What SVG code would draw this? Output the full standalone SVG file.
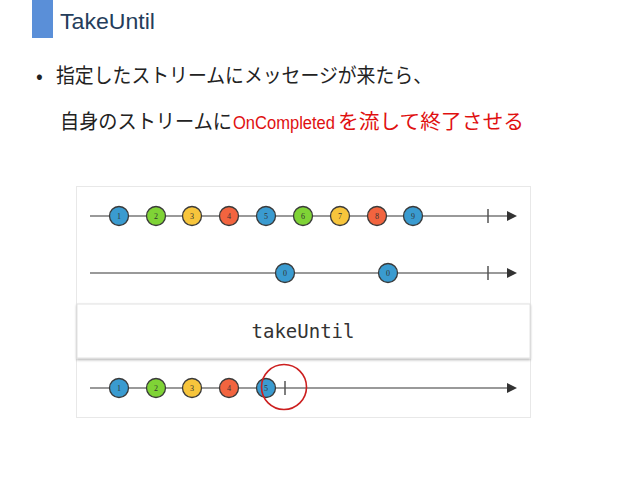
<svg xmlns="http://www.w3.org/2000/svg" width="638" height="479" viewBox="0 0 638 479">
<defs>
<style>
.jp{font-family:"Noto Sans CJK JP","Liberation Sans",sans-serif;font-size:20px;fill:#222}
.lat{font-family:"Liberation Sans",Arial,sans-serif;font-size:17.5px}
.red{fill:#e01010}
.ln{stroke:#777;stroke-width:1.6;fill:none}
.tk{stroke:#555;stroke-width:1.5}
.m{stroke:#3a3a3a;stroke-width:1.3}
.b{fill:#3a9bd0}.g{fill:#7fd336}.y{fill:#f7c53c}.r{fill:#f2643f}
.n{font-family:"Liberation Serif",serif;font-size:8px;fill:#333;text-anchor:middle}
</style>
<marker id="ah" viewBox="0 0 10 10" refX="0" refY="5" markerWidth="10" markerHeight="10" markerUnits="userSpaceOnUse" orient="auto"><path d="M0,0 L10,5 L0,10 z" fill="#333"/></marker>
<filter id="sh" x="-5%" y="-20%" width="110%" height="150%"><feDropShadow dx="0" dy="1.5" stdDeviation="1.2" flood-color="#000" flood-opacity="0.3"/></filter>
</defs>
<rect width="638" height="479" fill="#fff"/>
<g id="title">
<rect x="32" y="0" width="21" height="38" fill="#5a8fd8"/>
<text x="60" y="29" font-family="Liberation Sans,sans-serif" font-size="22" fill="#253d5b" textLength="95" lengthAdjust="spacingAndGlyphs">TakeUntil</text>
</g>
<g id="body">
<text x="36" y="83" class="jp">•</text>
<text x="56" y="83" class="jp" textLength="376" lengthAdjust="spacingAndGlyphs">指定したストリームにメッセージが来たら、</text>
<text x="60" y="129" class="jp" textLength="172" lengthAdjust="spacingAndGlyphs">自身のストリームに</text>
<text x="233" y="129" class="lat red" textLength="102" lengthAdjust="spacingAndGlyphs">OnCompleted</text>
<text x="338" y="129" class="jp red" textLength="186" lengthAdjust="spacingAndGlyphs">を流して終了させる</text>
</g>
<g id="panel">
<rect x="76.5" y="186.5" width="454" height="231" fill="#fff" stroke="#e8e8e8"/>
</g>
<g id="connectors">
<line class="ln" x1="90" y1="216" x2="507" y2="216" marker-end="url(#ah)"/>
<line class="tk" x1="488" y1="209" x2="488" y2="223"/>
<line class="ln" x1="90" y1="273" x2="507" y2="273" marker-end="url(#ah)"/>
<line class="tk" x1="488" y1="266" x2="488" y2="280"/>
<line class="ln" x1="90" y1="388" x2="507" y2="388" marker-end="url(#ah)"/>
<line class="tk" x1="285" y1="381" x2="285" y2="395"/>
</g>
<g id="row1">
<circle class="m b" cx="119" cy="216" r="9.5"/><text class="n" x="119" y="219">1</text>
<circle class="m g" cx="156" cy="216" r="9.5"/><text class="n" x="156" y="219">2</text>
<circle class="m y" cx="192" cy="216" r="9.5"/><text class="n" x="192" y="219">3</text>
<circle class="m r" cx="229" cy="216" r="9.5"/><text class="n" x="229" y="219">4</text>
<circle class="m b" cx="266" cy="216" r="9.5"/><text class="n" x="266" y="219">5</text>
<circle class="m g" cx="303" cy="216" r="9.5"/><text class="n" x="303" y="219">6</text>
<circle class="m y" cx="340" cy="216" r="9.5"/><text class="n" x="340" y="219">7</text>
<circle class="m r" cx="377" cy="216" r="9.5"/><text class="n" x="377" y="219">8</text>
<circle class="m b" cx="413" cy="216" r="9.5"/><text class="n" x="413" y="219">9</text>
</g>
<g id="row2">
<circle class="m b" cx="285" cy="273" r="9.5"/><text class="n" x="285" y="276">0</text>
<circle class="m b" cx="388" cy="273" r="9.5"/><text class="n" x="388" y="276">0</text>
</g>
<g id="operator">
<rect x="77" y="304" width="453" height="54" fill="#fff" stroke="#e2e2e2" filter="url(#sh)"/>
<text x="303" y="338" font-family="DejaVu Sans Mono,monospace" font-size="19" fill="#333" text-anchor="middle">takeUntil</text>
</g>
<g id="row3">
<circle class="m b" cx="119" cy="388" r="9.5"/><text class="n" x="119" y="391">1</text>
<circle class="m g" cx="156" cy="388" r="9.5"/><text class="n" x="156" y="391">2</text>
<circle class="m y" cx="192" cy="388" r="9.5"/><text class="n" x="192" y="391">3</text>
<circle class="m r" cx="229" cy="388" r="9.5"/><text class="n" x="229" y="391">4</text>
<circle class="m b" cx="266" cy="388" r="9.5"/><text class="n" x="266" y="391">5</text>
<circle cx="284" cy="387" r="22.5" fill="none" stroke="#cc1f1f" stroke-width="1.6"/>
</g>
</svg>
